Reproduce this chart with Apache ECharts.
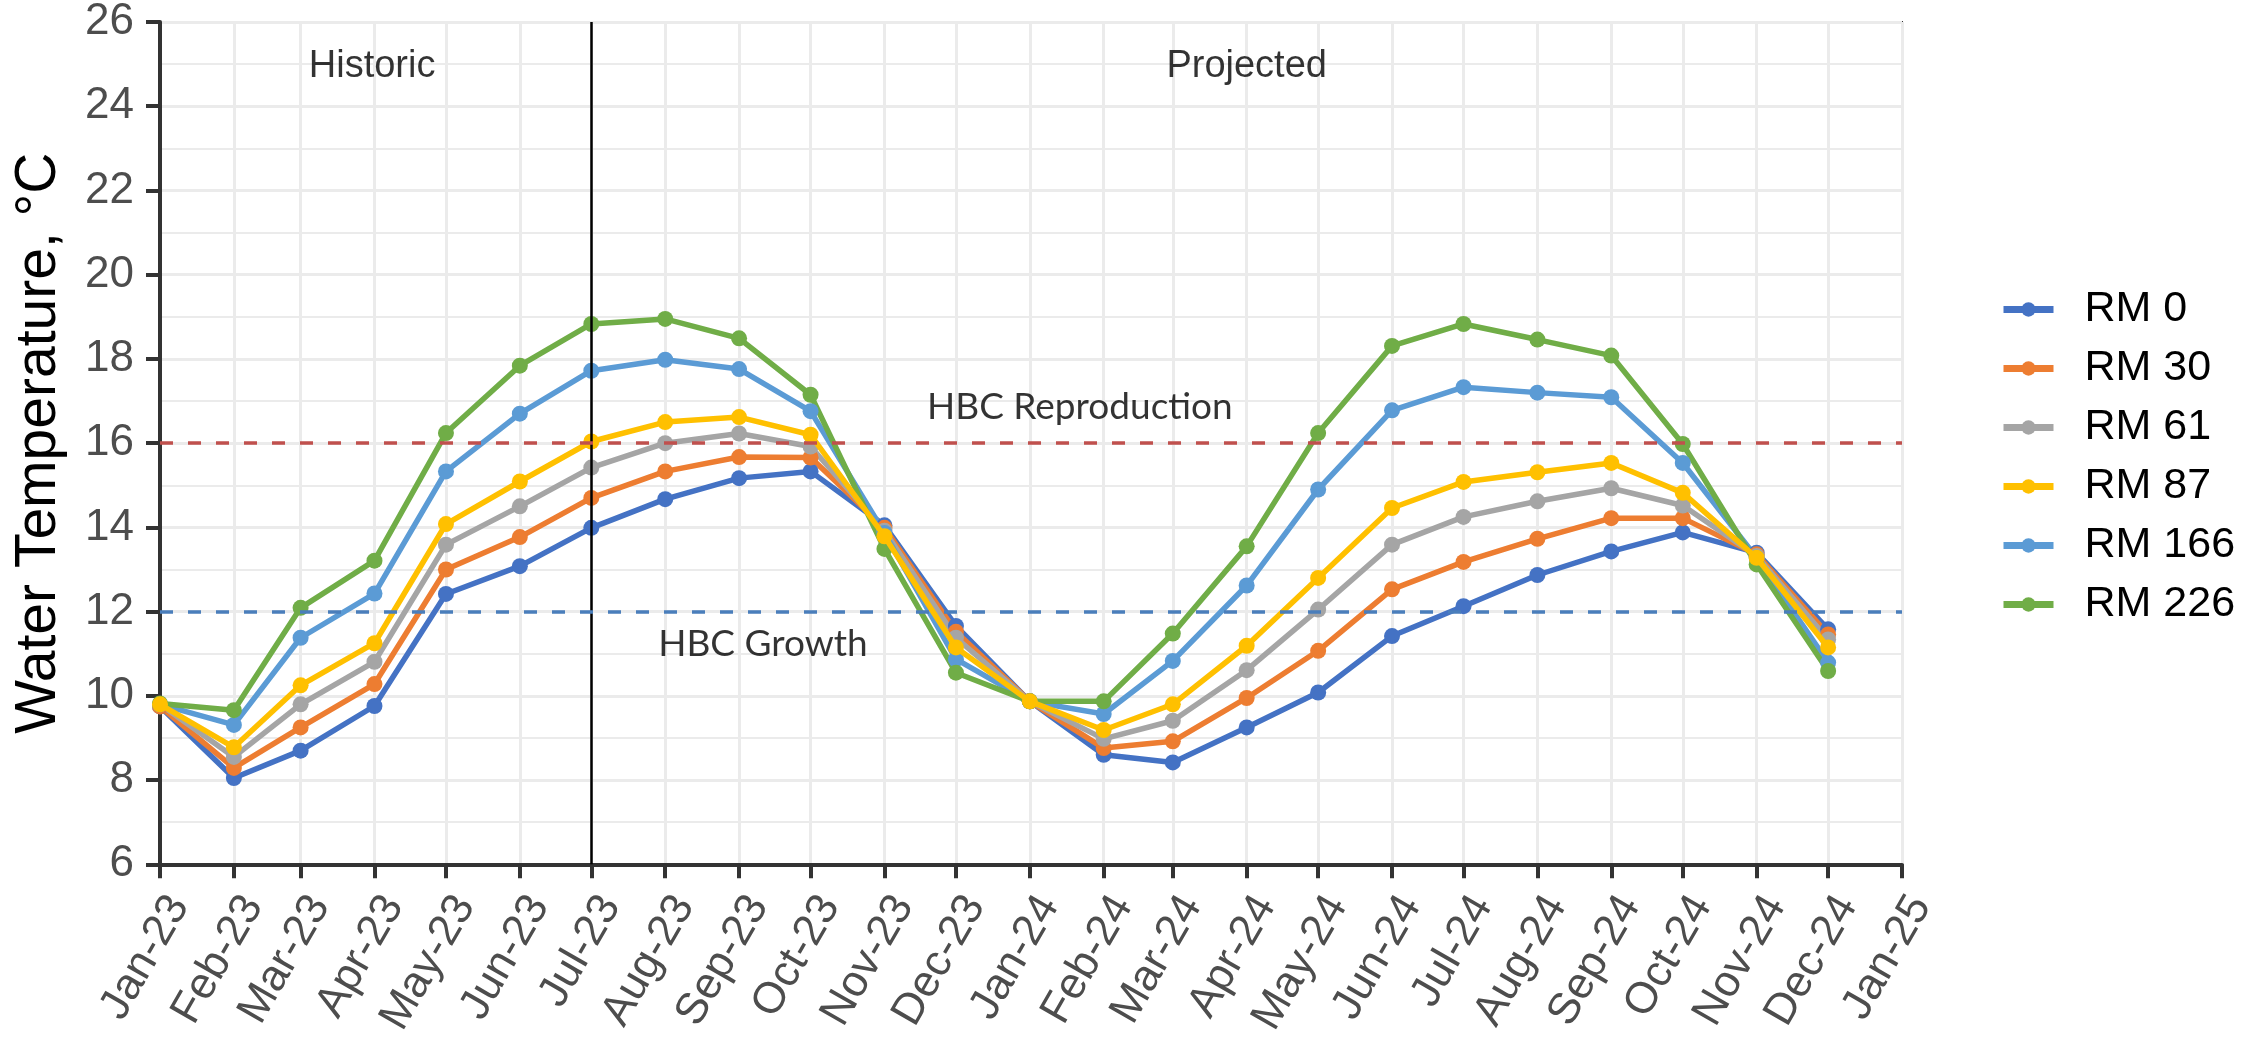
<!DOCTYPE html>
<html>
<head>
<meta charset="utf-8">
<title>Water Temperature</title>
<script src="https://cdn.jsdelivr.net/npm/echarts@6.0.0/dist/echarts.min.js"></script>
<style>
    html, body { margin: 0; padding: 0; background: #fff; }
    #waterTempChart { width: 2259px; height: 1040px; }
</style>
</head>
<body>
<div id="waterTempChart"></div>
<script>
    // monthly sample dates (first of month)
    const months = ['2023-01-01', '2023-02-01', '2023-03-01', '2023-04-01', '2023-05-01', '2023-06-01',
        '2023-07-01', '2023-08-01', '2023-09-01', '2023-10-01', '2023-11-01', '2023-12-01',
        '2024-01-01', '2024-02-01', '2024-03-01', '2024-04-01', '2024-05-01', '2024-06-01',
        '2024-07-01', '2024-08-01', '2024-09-01', '2024-10-01', '2024-11-01', '2024-12-01']
    const monthNames = ['Jan', 'Feb', 'Mar', 'Apr', 'May', 'Jun', 'Jul', 'Aug', 'Sep', 'Oct', 'Nov', 'Dec']

    const seriesNames = ['RM 0', 'RM 30', 'RM 61', 'RM 87', 'RM 166', 'RM 226']
    const seriesColors = ['#4472C4', '#ED7D31', '#A5A5A5', '#FFC000', '#5B9BD5', '#70AD47']

    const rm0 = [9.75, 8.05, 8.7, 9.76, 12.42, 13.08, 13.99, 14.67, 15.17, 15.33, 14.05, 11.66,
        9.87, 8.6, 8.42, 9.25, 10.08, 11.42, 12.13, 12.87, 13.43, 13.88, 13.4, 11.58]
    const rm30 = [9.75, 8.29, 9.25, 10.28, 13.0, 13.77, 14.7, 15.33, 15.67, 15.66, 13.99, 11.52,
        9.87, 8.76, 8.92, 9.95, 11.07, 12.53, 13.18, 13.73, 14.22, 14.22, 13.36, 11.46]
    const rm61 = [9.8, 8.55, 9.8, 10.81, 13.59, 14.5, 15.42, 16.0, 16.23, 15.92, 13.92, 11.38,
        9.87, 8.98, 9.41, 10.61, 12.05, 13.59, 14.25, 14.62, 14.93, 14.52, 13.32, 11.34]
    const rm87 = [9.8, 8.78, 10.25, 11.25, 14.08, 15.09, 16.04, 16.5, 16.62, 16.2, 13.79, 11.15,
        9.87, 9.19, 9.8, 11.19, 12.8, 14.46, 15.08, 15.31, 15.53, 14.82, 13.28, 11.15]
    const rm166 = [9.8, 9.31, 11.38, 12.43, 15.33, 16.7, 17.72, 17.98, 17.76, 16.76, 13.87, 10.87,
        9.87, 9.57, 10.83, 12.62, 14.9, 16.78, 17.33, 17.2, 17.09, 15.53, 13.28, 10.79]
    const rm226 = [9.82, 9.66, 12.09, 13.21, 16.24, 17.84, 18.83, 18.95, 18.49, 17.15, 13.49, 10.55,
        9.87, 9.87, 11.48, 13.55, 16.24, 18.31, 18.83, 18.46, 18.08, 15.98, 13.12, 10.59]
    const seriesValues = [rm0, rm30, rm61, rm87, rm166, rm226]

    // reference lines
    const splitDate = '2023-07-01'
    const reproductionTemp = 16
    const growthTemp = 12

    // text annotations
    const noteTexts = ['Historic', 'Projected', 'HBC Reproduction', 'HBC Growth']
    const noteDates = ['2023-03-31', '2024-04-01', '2024-01-22', '2023-09-11']
    const noteValues = [24.95, 24.95, 16.86, 11.23]

    const yTicks = {min: 6, max: 26, interval: 2}

    let myChart = echarts.init(document.getElementById('waterTempChart'))
    const DAY = 24 * 3600 * 1000

    let lineSeries = seriesNames.map((name, i) => ({
        name: name,
        type: 'line',
        z: name === 'RM 87' ? 4 : 3,
        symbol: 'circle',
        symbolSize: 16,
        lineStyle: {width: 5.5, color: seriesColors[i]},
        itemStyle: {color: seriesColors[i]},
        data: months.map((m, k) => [m, seriesValues[i][k]])
    }))

    let noteFonts = ['Liberation Sans', 'Liberation Sans', 'Lato', 'Lato']

    let options = {
        animation: false,
        backgroundColor: '#fff',
        grid: {
            left: 160,
            right: 357,
            top: 22,
            bottom: 173,
            show: true,
            borderColor: '#333',
            borderWidth: 2
        },
        legend: {
            orient: 'vertical',
            left: 1995,
            top: 283,
            itemWidth: 50,
            itemHeight: 18,
            itemGap: 16,
            data: seriesNames,
            lineStyle: {width: 7},
            textStyle: {
                fontSize: 43,
                color: '#000',
                fontFamily: 'Liberation Sans, Arial, sans-serif',
                padding: [0, 0, 0, 26]
            }
        },
        xAxis: {
            type: 'time',
            min: new Date(2023, 0, 1).getTime(),
            max: new Date(2025, 0, 1).getTime(),
            splitNumber: 24,
            minInterval: 28 * DAY,
            maxInterval: 31 * DAY,
            axisLine: {lineStyle: {color: '#333', width: 4}},
            axisTick: {show: true, length: 14, lineStyle: {color: '#333', width: 4}},
            axisLabel: {
                rotate: 60,
                margin: 24,
                fontSize: 44,
                color: '#4D4D4D',
                fontFamily: 'Liberation Sans, Arial, sans-serif',
                verticalAlign: 'top',
                hideOverlap: false,
                showMinLabel: true,
                showMaxLabel: true,
                formatter: function (val) {
                    let d = new Date(val)
                    return monthNames[d.getMonth()] + '-' + String(d.getFullYear()).slice(2)
                }
            },
            splitLine: {show: true, lineStyle: {color: '#EBEBEB', width: 3}}
        },
        yAxis: {
            type: 'value',
            min: yTicks.min,
            max: yTicks.max,
            interval: yTicks.interval,
            name: 'Water Temperature, °C',
            nameLocation: 'middle',
            nameGap: 92,
            nameTextStyle: {fontSize: 57, color: '#000', fontFamily: 'Liberation Sans, Arial, sans-serif'},
            axisLine: {show: true, lineStyle: {color: '#333', width: 4}},
            axisTick: {show: true, length: 14, lineStyle: {color: '#333', width: 4}},
            axisLabel: {
                margin: 26,
                fontSize: 44,
                color: '#4D4D4D',
                fontFamily: 'Liberation Sans, Arial, sans-serif'
            },
            splitLine: {show: true, lineStyle: {color: '#EBEBEB', width: 3}},
            minorTick: {show: false, splitNumber: 2},
            minorSplitLine: {show: true, lineStyle: {color: '#EBEBEB', width: 2}}
        },
        series: [{
            // reference lines and annotations
            name: 'refs',
            type: 'scatter',
            z: 1,
            symbolSize: 1,
            itemStyle: {color: 'rgba(0,0,0,0)'},
            label: {
                show: true,
                position: 'inside',
                color: '#000',
                formatter: p => p.data.text
            },
            data: noteTexts.map((t, i) => ({
                value: [noteDates[i], noteValues[i]],
                text: t,
                label: {
                    fontSize: i < 2 ? 38 : 37,
                    fontFamily: noteFonts[i]
                }
            })),
            markLine: {
                silent: true,
                symbol: 'none',
                label: {show: false},
                data: [
                    {xAxis: splitDate, lineStyle: {color: '#000', width: 2.5, type: 'solid'}},
                    {yAxis: reproductionTemp, lineStyle: {color: '#C0504D', width: 3.5, type: [13, 15]}},
                    {yAxis: growthTemp, lineStyle: {color: '#4A7EBB', width: 3.5, type: [13, 15]}}
                ]
            }
        }].concat(lineSeries)
    }
    myChart.setOption(options)
</script>
</body>
</html>
